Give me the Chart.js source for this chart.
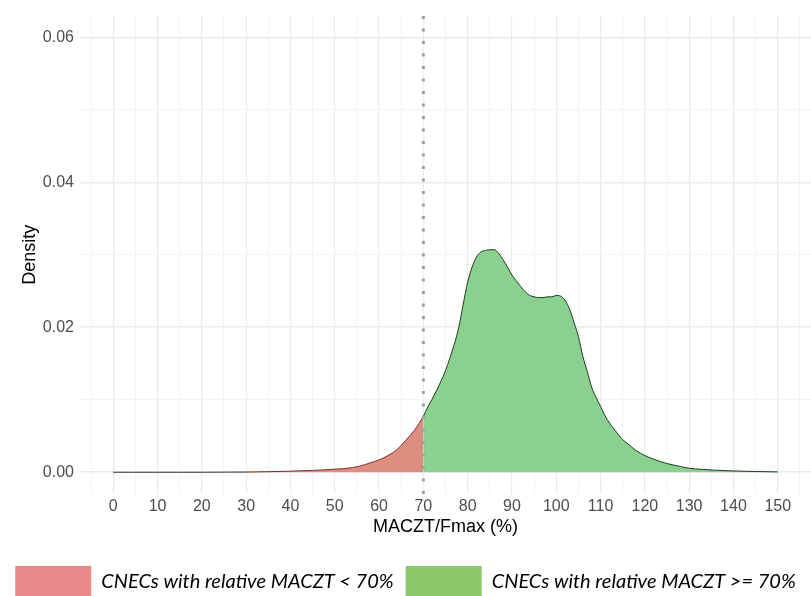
<!DOCTYPE html>
<html lang="en">
<head>
    <meta charset="UTF-8">
    <title>MACZT density</title>
    <script src="https://cdn.jsdelivr.net/npm/chart.js"></script>
    <style>
        html, body { margin: 0; padding: 0; background: #fff; overflow: hidden; }
        #graph { position: relative; width: 811px; height: 608px; }
    </style>
</head>
<body>
    <div id="graph">
        <canvas id="myChart"></canvas>
    </div>

<script>
    // valores
    const densX = [0, 10, 20, 30, 35, 40, 45, 50, 52, 54, 56, 58, 60, 62, 64, 66, 68, 69, 70,
        71, 72, 73, 74, 75, 76, 77, 78, 79, 80, 81, 82, 83, 84, 85, 86, 87, 88, 89, 90,
        91, 92, 93, 94, 95, 96, 97, 98, 99, 100, 101, 102, 103, 104, 105, 106, 107, 108, 109, 110,
        111, 112, 113, 114, 115, 116, 118, 120, 122, 125, 128, 130, 133, 136, 140, 145, 150]
    const densY = [0, 0, 0, 0.00003, 0.00008, 0.00015, 0.00025, 0.00042, 0.0005, 0.00065, 0.0009, 0.0013, 0.0017, 0.0023, 0.0031, 0.0044, 0.0058, 0.0067, 0.0077,
        0.0090, 0.0101, 0.0113, 0.0126, 0.0140, 0.0158, 0.0177, 0.0200, 0.0232, 0.0262, 0.0283, 0.0297, 0.0304, 0.0306, 0.0307, 0.0307, 0.0302, 0.0293, 0.0283, 0.0272,
        0.0264, 0.0256, 0.0249, 0.0244, 0.0242, 0.0241, 0.0241, 0.0242, 0.0242, 0.0244, 0.0243, 0.0237, 0.0225, 0.0207, 0.0187, 0.0160, 0.0139, 0.0117, 0.0103, 0.0091,
        0.0078, 0.0068, 0.0060, 0.0052, 0.0045, 0.0040, 0.0030, 0.0023, 0.0018, 0.0012, 0.0008, 0.00055, 0.0004, 0.00028, 0.00018, 0.0001, 0.00005]

    const limite = 70
    const xTicks = [-5, 0, 5, 10, 15, 20, 25, 30, 35, 40, 45, 50, 55, 60, 65, 70, 75, 80, 85, 90, 95, 100, 105, 110, 115, 120, 125, 130, 135, 140, 145, 150, 155]
    const xLimites = [-7.5, 157.5]
    const yTicks = [0, 0.01, 0.02, 0.03, 0.04, 0.05, 0.06]
    const yLabels = ['0.00', '', '0.02', '', '0.04', '', '0.06']
    const yLimites = [-0.003, 0.063]

    const legendas = ['CNECs with relative MACZT < 70%', 'CNECs with relative MACZT >= 70%']
    const coresLegenda = ['#e88a8a', '#8dc868']

    const pontosAbaixo = []
    const pontosAcima = []
    for (let i = 0; i < densX.length; i++) {
        if (densX[i] <= limite) pontosAbaixo.push({ x: densX[i], y: densY[i] })
        if (densX[i] >= limite) pontosAcima.push({ x: densX[i], y: densY[i] })
    }

    const ctx = document.getElementById('myChart');

    new Chart(ctx, {
        type: 'line',
        data: {
            datasets: [{
                label: 'limite',
                data: [{ x: limite, y: yLimites[0] }, { x: limite, y: yLimites[1] }],
                borderColor: '#a0a0a0',
                borderWidth: 3,
                borderDash: [3, 9.5],
                pointRadius: 0,
                fill: false
            },
            {
                label: legendas[0],
                data: pontosAbaixo,
                backgroundColor: 'rgb(222, 142, 129)',
                borderColor: '#7b2d24',
                borderWidth: 1,
                pointRadius: 0,
                fill: 'origin',
                cubicInterpolationMode: 'monotone',
                segment: {
                    borderColor: c => c.p1.parsed.x <= 30 ? '#333333' : '#7b2d24'
                }
            },
            {
                label: legendas[1],
                data: pontosAcima,
                backgroundColor: 'rgb(138, 208, 143)',
                borderColor: '#1e3d1e',
                borderWidth: 1,
                pointRadius: 0,
                fill: 'origin',
                cubicInterpolationMode: 'monotone'
            }]
        },
        options: {
            responsive: true,
            maintainAspectRatio: false,
            animation: false,
            layout: {
                padding: { top: 15, right: 0, left: 0, bottom: 0 }
            },
            plugins: {
                tooltip: { enabled: false },
                legend: {
                    position: 'bottom',
                    align: 'center',
                    labels: {
                        boxWidth: 76,
                        boxHeight: 32,
                        padding: 12,
                        color: '#111',
                        font: { family: 'Lato', style: 'italic', size: 20 },
                        generateLabels: function (chart) {
                            return legendas.map((t, i) => ({
                                text: t,
                                fillStyle: coresLegenda[i],
                                strokeStyle: coresLegenda[i],
                                lineWidth: 0,
                                datasetIndex: i + 1,
                                hidden: false
                            }))
                        }
                    }
                }
            },
            scales: {
                x: {
                    type: 'linear',
                    min: xLimites[0],
                    max: xLimites[1],
                    afterBuildTicks: s => { s.ticks = xTicks.map(v => ({ value: v })) },
                    afterFit: s => { s.height = 60 },
                    border: { display: false },
                    grid: {
                        drawTicks: false,
                        color: c => c.tick && c.tick.value % 10 === 0 ? '#ebebeb' : '#f3f3f3',
                        lineWidth: c => c.tick && c.tick.value % 10 === 0 ? 1.2 : 1
                    },
                    ticks: {
                        autoSkip: false,
                        maxRotation: 0,
                        padding: 3,
                        color: '#4d4d4d',
                        font: { family: 'Liberation Sans', size: 16 },
                        callback: v => (v % 10 === 0 && v >= 0 && v <= 150) ? String(v) : ''
                    },
                    title: {
                        display: true,
                        text: 'MACZT/Fmax (%)',
                        color: '#000',
                        font: { family: 'Liberation Sans', size: 18 },
                        padding: { top: 0, bottom: 16 }
                    }
                },
                y: {
                    min: yLimites[0],
                    max: yLimites[1],
                    afterBuildTicks: s => { s.ticks = yTicks.map(v => ({ value: v })) },
                    afterFit: s => { s.width = 80 },
                    border: { display: false },
                    grid: {
                        drawTicks: false,
                        color: c => c.index % 2 === 0 ? '#ebebeb' : '#f4f4f4',
                        lineWidth: c => c.index % 2 === 0 ? 1.6 : 1
                    },
                    ticks: {
                        padding: 6,
                        color: '#4d4d4d',
                        font: { family: 'Liberation Sans', size: 16 },
                        callback: (v, i) => yLabels[i]
                    },
                    title: {
                        display: true,
                        text: 'Density',
                        color: '#000',
                        font: { family: 'Liberation Sans', size: 18 },
                        padding: { top: 19, bottom: 0 }
                    }
                }
            }
        }
    });
</script>
</body>
</html>
